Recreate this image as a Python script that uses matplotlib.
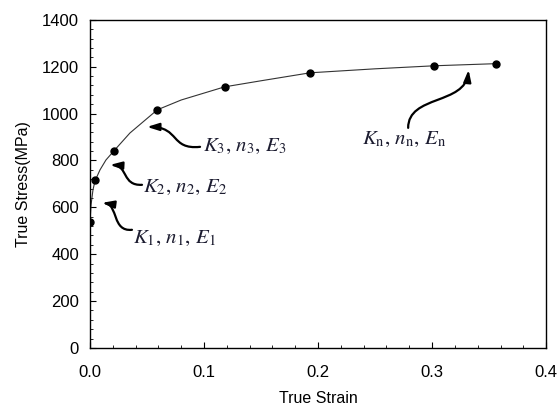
import matplotlib
matplotlib.use("Agg")
import matplotlib.pyplot as plt
from matplotlib.patches import FancyArrowPatch
from matplotlib.path import Path
from matplotlib.ticker import MultipleLocator, FormatStrFormatter

plt.rcParams["font.family"] = ["Liberation Sans", "DejaVu Sans"]
plt.rcParams["mathtext.fontset"] = "stix"

# measured points
strain = [0.0, 0.0044, 0.021, 0.059, 0.118, 0.193, 0.302, 0.356]
stress = [538, 715, 841, 1016, 1114, 1174, 1204, 1213]

# fitted curve
fit_strain = [0.0, 0.0009, 0.0026, 0.0044, 0.0088, 0.014, 0.021, 0.035, 0.059, 0.08, 0.118, 0.15, 0.193, 0.25, 0.302, 0.356]
fit_stress = [538, 610, 674, 713, 760, 802, 841, 917, 1016, 1058, 1114, 1140, 1174, 1191, 1204, 1213]

fig = plt.figure(figsize=(5.59, 4.05), dpi=100)
ax = fig.add_axes([0.161, 0.141, 0.816, 0.810])

ax.plot(fit_strain, fit_stress, color="#333333", lw=0.8)
ax.plot(strain, stress, "o", color="black", ms=5, ls="none")

ax.set_xlim(0, 0.4)
ax.set_ylim(0, 1400)
ax.xaxis.set_major_locator(MultipleLocator(0.1))
ax.xaxis.set_minor_locator(MultipleLocator(0.02))
ax.xaxis.set_major_formatter(FormatStrFormatter("%.1f"))
ax.yaxis.set_major_locator(MultipleLocator(200))
ax.yaxis.set_minor_locator(MultipleLocator(40))
ax.tick_params(which="both", direction="in", top=False, right=False, labelsize=12)
ax.tick_params(which="major", length=4)
ax.tick_params(which="minor", length=2)
ax.tick_params(axis="x", pad=12)
ax.tick_params(axis="y", pad=8)
for s in ax.spines.values():
    s.set_linewidth(1.0)

ax.set_xlabel("True Strain", fontsize=11.5, labelpad=8)
ax.set_ylabel("True Stress(MPa)", fontsize=11.5, labelpad=8)

txt_col = "#1c1c30"
labels = [
    (0.0377, 469, r"$K_1,\,n_1,\,E_1$"),
    (0.0465, 683, r"$K_2,\,n_2,\,E_2$"),
    (0.099, 858, r"$K_3,\,n_3,\,E_3$"),
    (0.2386, 888, r"$K_\mathrm{n},\,n_\mathrm{n},\,E_\mathrm{n}$"),
]
for x, y, t in labels:
    ax.text(x, y, t, fontsize=15, color=txt_col, va="center", ha="left")

arrows = [
    [(0.0368, 504), (0.0193, 495), (0.0246, 610), (0.0105, 619)],
    [(0.0456, 696), (0.0281, 691), (0.0333, 777), (0.0175, 781)],
    [(0.0965, 858), (0.0702, 845), (0.0789, 943), (0.050, 943)],
    [(0.279, 939), (0.279, 1080), (0.329, 1037), (0.332, 1187)],
]
codes = [Path.MOVETO, Path.CURVE4, Path.CURVE4, Path.CURVE4]
for pts in arrows:
    arr = FancyArrowPatch(path=Path(pts, codes),
                          arrowstyle="-|>,head_length=0.7,head_width=0.22",
                          mutation_scale=10, lw=1.6, color="black")
    ax.add_patch(arr)

fig.savefig("out.png", dpi=100)
